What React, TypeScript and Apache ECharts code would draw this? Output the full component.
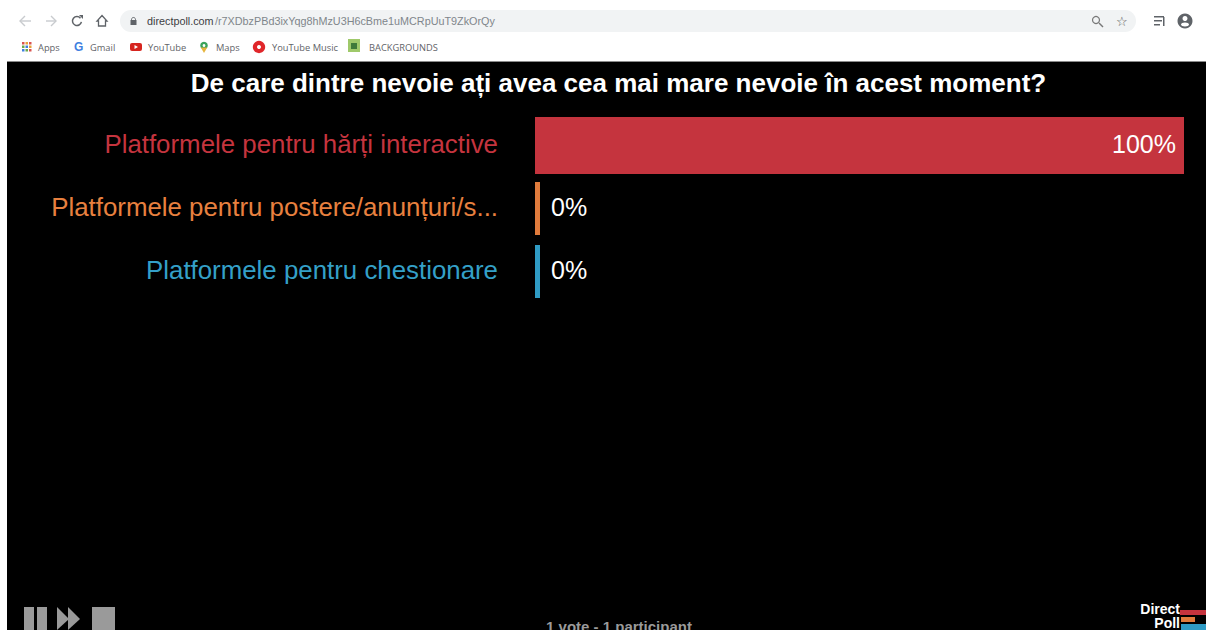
import React, { useEffect, useRef } from "react";
import * as echarts from "echarts";

const title = "De care dintre nevoie ați avea cea mai mare nevoie în acest moment?";
const categories = [
  "Platformele pentru hărți interactive",
  "Platformele pentru postere/anunțuri/s...",
  "Platformele pentru chestionare",
];
const values = [100, 0, 0];
const barColors = ["#c5343e", "#e07b3c", "#2f9bc4"];
const labelColors = ["#c5343e", "#e8803f", "#34a0c8"];
const footer = "1 vote - 1 participant";
const url = "directpoll.com";
const urlRest = "/r7XDbzPBd3ixYqg8hMzU3H6cBme1uMCRpUuT9ZkOrQy";
const bookmarks = ["Apps", "Gmail", "YouTube", "Maps", "YouTube Music", "BACKGROUNDS"];
const bookmarkX = [38, 90, 148, 216, 272, 369];
const FONT = "'Liberation Sans', Arial, sans-serif";
const UIFONT = "'Open Sans', 'Noto Sans', sans-serif";
const GRAY = "#9a9a9a";
const UI = "#5f6368";
const appDots = ["#d9534f", "#e6a23c", "#d9534f", "#6aa84f", "#3f7fe0", "#e6a23c", "#3f7fe0", "#6aa84f", "#d9534f"];

function t(x: number, y: number, text: string, fontSize: number, fill: string, extra: any = {}) {
  return {
    type: "text",
    x,
    y,
    silent: true,
    z: extra.z ?? 5,
    style: { text, fontSize, fill, fontFamily: FONT, textVerticalAlign: "middle", ...extra },
  };
}

const line = (x1: number, y1: number, x2: number, y2: number, stroke: string, lineWidth = 1.4) => ({
  type: "line",
  shape: { x1, y1, x2, y2 },
  style: { stroke, lineWidth },
  z: 5,
});

function chrome() {
  const els: any[] = [
    { type: "rect", shape: { x: 0, y: 0, width: 1206, height: 62 }, style: { fill: "#ffffff" }, z: 1 },
    { type: "rect", shape: { x: 7, y: 61, width: 1199, height: 569 }, style: { fill: "#000000" }, z: 1 },
    { type: "rect", shape: { x: 7, y: 61, width: 1199, height: 1 }, style: { fill: "#8a8a8a" }, z: 2 },
    { type: "rect", shape: { x: 120, y: 10, width: 1016, height: 22, r: 11 }, style: { fill: "#f1f3f4" }, z: 2 },
    // back / forward
    line(20, 21, 31, 21, "#c8cbce"),
    { type: "polyline", shape: { points: [[25, 16], [20, 21], [25, 26]] }, style: { stroke: "#c8cbce", lineWidth: 1.4, fill: "none" }, z: 5 },
    line(46, 21, 56, 21, "#c8cbce"),
    { type: "polyline", shape: { points: [[51, 16], [56, 21], [51, 26]] }, style: { stroke: "#c8cbce", lineWidth: 1.4, fill: "none" }, z: 5 },
    // reload
    { type: "arc", shape: { cx: 77, cy: 21, r: 4.5, startAngle: 0.2, endAngle: 5.6, clockwise: true }, style: { stroke: UI, lineWidth: 1.5, fill: "none" }, z: 5 },
    { type: "polygon", shape: { points: [[79, 15], [83, 15], [83, 19]] }, style: { fill: UI }, z: 5 },
    // home
    { type: "polygon", shape: { points: [[102, 15.5], [107, 21], [105.5, 21], [105.5, 26], [98.5, 26], [98.5, 21], [97, 21]] }, style: { stroke: UI, lineWidth: 1.3, fill: "none" }, z: 5 },
    // lock
    { type: "rect", shape: { x: 130.5, y: 20, width: 6, height: 5 }, style: { fill: UI }, z: 5 },
    { type: "circle", shape: { cx: 133.5, cy: 19.5, r: 2 }, style: { fill: "none", stroke: UI, lineWidth: 1 }, z: 5 },
    t(147, 21, url, 10.8, "#3c4043"),
    t(215, 21, urlRest, 10.8, "#80868b"),
    { type: "circle", shape: { cx: 1096, cy: 20, r: 3.5 }, style: { fill: "none", stroke: "#777", lineWidth: 1.2 }, z: 5 },
    line(1099, 23, 1103, 27, "#777"),
    t(1122, 21, "☆", 13, "#555", { align: "center", textAlign: "center" }),
    { type: "rect", shape: { x: 1154, y: 16, width: 10, height: 1.5 }, style: { fill: UI }, z: 5 },
    { type: "rect", shape: { x: 1154, y: 20, width: 8, height: 1.5 }, style: { fill: UI }, z: 5 },
    { type: "rect", shape: { x: 1154, y: 24, width: 6, height: 1.5 }, style: { fill: UI }, z: 5 },
    { type: "rect", shape: { x: 1163, y: 17, width: 1.5, height: 9 }, style: { fill: UI }, z: 5 },
    { type: "circle", shape: { cx: 1185, cy: 21, r: 7.5 }, style: { fill: UI }, z: 5 },
    { type: "circle", shape: { cx: 1185, cy: 18.5, r: 2.5 }, style: { fill: "#fff" }, z: 6 },
    { type: "ellipse", shape: { cx: 1185, cy: 24.5, rx: 4, ry: 2 }, style: { fill: "#fff" }, z: 6 },
    // bookmark icons
    t(74, 47, "G", 12, "#3f7fe0", { fontWeight: "bold" }),
    { type: "rect", shape: { x: 130, y: 43, width: 12, height: 8, r: 2 }, style: { fill: "#d6251f" }, z: 5 },
    { type: "polygon", shape: { points: [[134.5, 45], [138, 47], [134.5, 49]] }, style: { fill: "#fff" }, z: 6 },
    { type: "circle", shape: { cx: 204, cy: 45.5, r: 3.8 }, style: { fill: "#3aa35b" }, z: 5 },
    { type: "polygon", shape: { points: [[200.8, 47.5], [207.2, 47.5], [204, 53]] }, style: { fill: "#e6b43c" }, z: 5 },
    { type: "circle", shape: { cx: 204, cy: 45.5, r: 1.4 }, style: { fill: "#fff" }, z: 6 },
    { type: "circle", shape: { cx: 259, cy: 47, r: 6.2 }, style: { fill: "#e0262a" }, z: 5 },
    { type: "circle", shape: { cx: 259, cy: 47, r: 2 }, style: { fill: "#fff" }, z: 6 },
    { type: "rect", shape: { x: 348, y: 39, width: 12, height: 13 }, style: { fill: "#9fc96a" }, z: 5 },
    { type: "rect", shape: { x: 351, y: 43, width: 6, height: 6 }, style: { fill: "#3f7a3a" }, z: 6 },
    // playback controls
    { type: "rect", shape: { x: 24, y: 607, width: 10, height: 23 }, style: { fill: GRAY }, z: 5 },
    { type: "rect", shape: { x: 37, y: 607, width: 10, height: 23 }, style: { fill: GRAY }, z: 5 },
    { type: "polygon", shape: { points: [[57, 607], [69, 619], [57, 630]] }, style: { fill: GRAY }, z: 5 },
    { type: "polygon", shape: { points: [[68, 607], [80, 619], [68, 630]] }, style: { fill: GRAY }, z: 5 },
    { type: "rect", shape: { x: 92, y: 607, width: 23, height: 23 }, style: { fill: GRAY }, z: 5 },
    // footer
    t(619, 626, footer, 15, GRAY, { fontWeight: "bold", align: "center", textAlign: "center" }),
    // logo
    t(1180, 609, "Direct", 14, "#ffffff", { fontWeight: "bold", align: "right", textAlign: "right" }),
    t(1180, 623, "Poll", 14, "#ffffff", { fontWeight: "bold", align: "right", textAlign: "right" }),
    { type: "rect", shape: { x: 1180, y: 610, width: 26, height: 5 }, style: { fill: barColors[0] }, z: 5 },
    { type: "rect", shape: { x: 1181, y: 617, width: 14, height: 5 }, style: { fill: barColors[1] }, z: 5 },
    { type: "rect", shape: { x: 1181, y: 624, width: 25, height: 6 }, style: { fill: barColors[2] }, z: 5 },
    // title
    t(618.5, 83, title, 26, "#ffffff", { fontWeight: "bold", align: "center", textAlign: "center" }),
  ];
  appDots.forEach((c, i) =>
    els.push({
      type: "rect",
      shape: { x: 22 + (i % 3) * 3.5, y: 42 + Math.floor(i / 3) * 3.5, width: 2.5, height: 2.5 },
      style: { fill: c },
      z: 5,
    })
  );
  bookmarks.forEach((b, i) => els.push(t(bookmarkX[i], 47, b, 9.3, UI, { fontFamily: UIFONT })));
  return els;
}

export default function App() {
  const ref = useRef<HTMLDivElement>(null);
  useEffect(() => {
    const chart = echarts.init(ref.current!, undefined, { renderer: "svg" });
    const labelFor = (v: number) => ({
      show: true,
      formatter: `${v}%`,
      color: "#ffffff",
      fontSize: 25,
      fontFamily: FONT,
      position: v > 0 ? ("insideRight" as const) : ("right" as const),
      distance: v > 0 ? 8 : 11,
      offset: [0, -2],
    });
    const pick = (keep: (v: number) => boolean) =>
      values.map((v, i) =>
        keep(v)
          ? { value: v, itemStyle: { color: barColors[i] }, label: labelFor(v) }
          : { value: null }
      );
    chart.setOption({
      animation: false,
      backgroundColor: "#ffffff",
      graphic: { elements: chrome() },
      grid: [
        { left: 535, right: 22, top: 114, height: 189, containLabel: false },
        { left: 535, right: 22, top: 112, height: 189, containLabel: false },
      ],
      xAxis: [
        { type: "value", gridIndex: 0, min: 0, max: 100, show: false },
        { type: "value", gridIndex: 1, min: 0, max: 100, show: false },
      ],
      yAxis: [
        { type: "category", gridIndex: 0, inverse: true, show: false, data: categories },
        { type: "category", gridIndex: 0, inverse: true, show: false, data: categories },
        {
          type: "category",
          gridIndex: 1,
          inverse: true,
          data: categories.map((c, i) => ({
            value: c,
            textStyle: { color: labelColors[i] },
          })),
          axisLine: { show: false },
          axisTick: { show: false },
          z: 10,
          axisLabel: { fontSize: 25.85, fontFamily: FONT, margin: 37 },
        },
      ],
      series: [
        { type: "bar", z: 10, xAxisIndex: 0, yAxisIndex: 0, barWidth: 57, data: pick((v) => v > 0) },
        { type: "bar", z: 10, xAxisIndex: 0, yAxisIndex: 1, barWidth: 53, barMinHeight: 5, data: pick((v) => v === 0) },
      ],
    });
    return () => chart.dispose();
  }, []);
  return <div ref={ref} style={{ position: "absolute", left: 0, top: 0, width: 1206, height: 630 }} />;
}
